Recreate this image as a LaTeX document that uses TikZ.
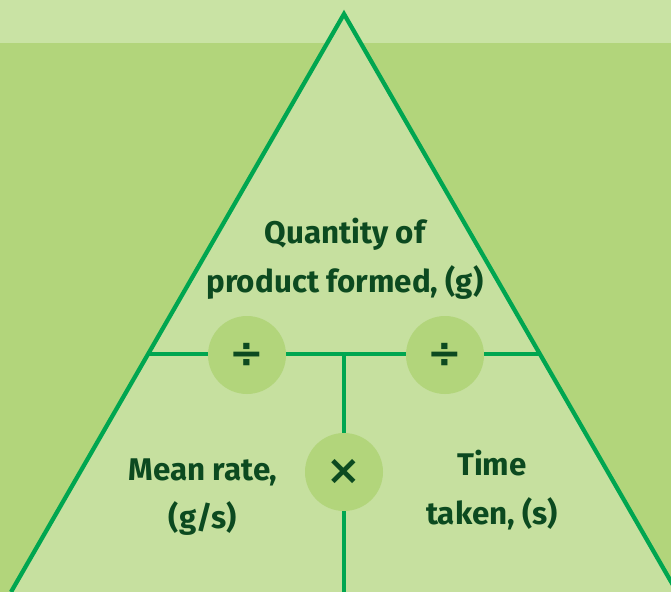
\documentclass[tikz,border=0pt]{standalone}
\usepackage{fontspec}
\setmainfont{Fira Sans}
\newfontfamily\opfont{DejaVu Sans}
\usepackage{tikz}
\usetikzlibrary{positioning,calc}
\definecolor{bgdark}{HTML}{B2D57B}
\definecolor{bglight}{HTML}{C9E3A4}
\definecolor{trifill}{HTML}{C6E09F}
\definecolor{edge}{HTML}{00A650}
\definecolor{ink}{HTML}{0C4A20}

\begin{document}
\begin{tikzpicture}[
  x=0.75pt, y=-0.75pt,
  edgeline/.style={draw=edge, line width=3.2pt},
  label/.style={text=ink, font=\bfseries\fontsize{23.5}{36.5}\selectfont, align=center},
  opcircle/.style={circle, fill=bgdark, minimum size=58.5pt, inner sep=0pt, text=ink, font=\opfont\bfseries\fontsize{31}{31}\selectfont}
]
  % Background and top band
  \useasboundingbox (0,0) rectangle (671,592);
  \clip (0,0) rectangle (671,592);
  \fill[bgdark] (0,0) rectangle (671,592);
  \fill[bglight] (0,0) rectangle (671,43);

  % Triangle
  \coordinate (apex) at (344,14);
  \coordinate (bl) at (11,592);
  \coordinate (br) at (677,592);
  \fill[trifill] (apex) -- (bl) -- (br) -- cycle;

  % Dividers
  \coordinate (hl) at ($(apex)!0.588!(bl)$);
  \coordinate (hr) at ($(apex)!0.588!(br)$);
  \coordinate (mid) at (344,355);
  \coordinate (bot) at (344,592);
  \draw[edgeline] (hl) -- (hr);
  \draw[edgeline] (mid) -- (bot);
  \draw[edgeline, line join=miter] (bl) -- (apex) -- (br);

  % Operators
  \node[opcircle] (divl) at (247,355) {÷};
  \node[opcircle] (divr) at (445,355) {÷};
  \node[opcircle] (times) at (344,472) {×};

  % Labels
  \node[label] (quantity) at (345,259) {Quantity of\\product formed, (g)};
  \node[label] (rate) at (203,497) {Mean rate,\\(g/s)};
  \node[label] (time) at (492,490) {Time\\taken, (s)};
\end{tikzpicture}
\end{document}
